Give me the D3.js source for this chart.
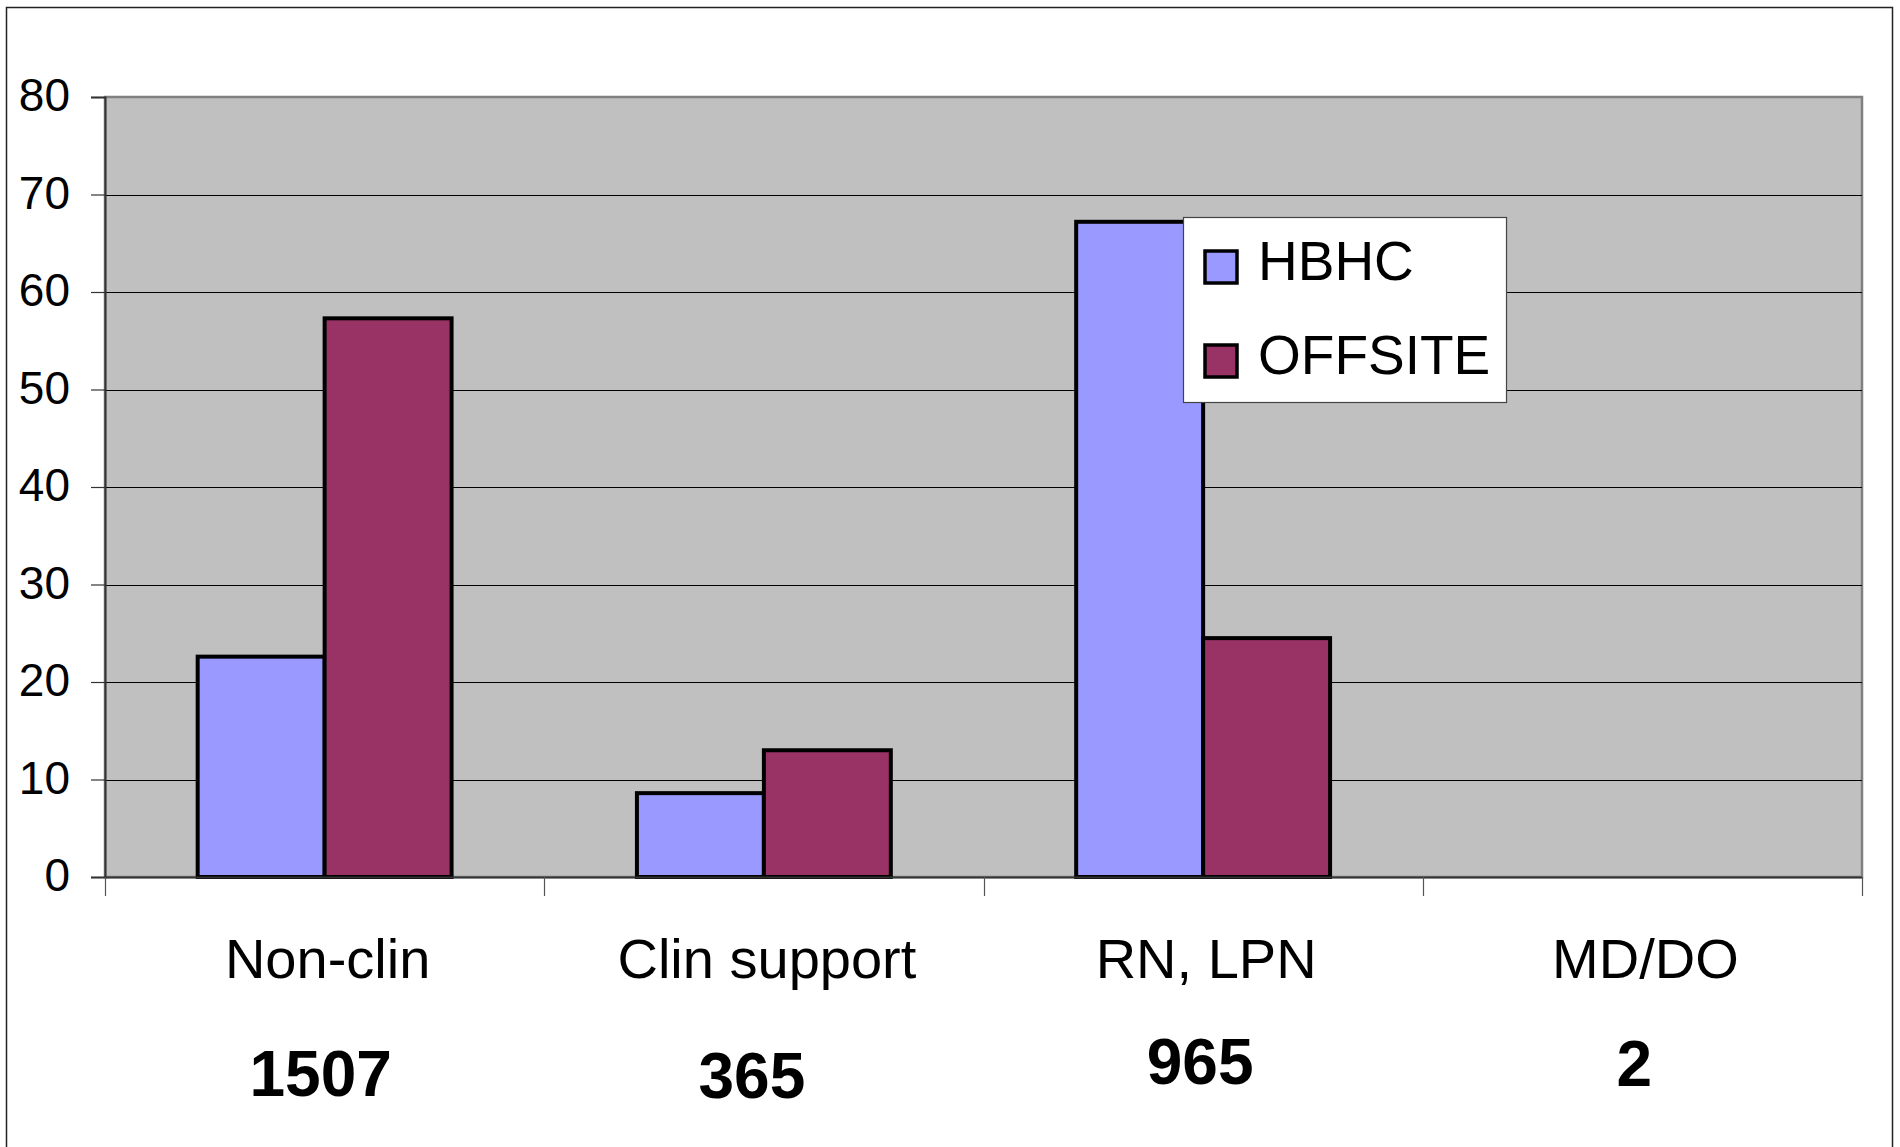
<!DOCTYPE html>
<html>
  <head>
    <meta charset="utf-8">
    <title>HBHC vs OFFSITE</title>
    <style type="text/css">
     html, body {
       margin: 0;
       padding: 0;
       background: #fff;
     }
     svg {
       display: block;
       font-family: "Liberation Sans", Arial, sans-serif;
     }
     .grid line {
       stroke: #000;
       stroke-width: 1px;
     }
     .bars rect {
       stroke: #000;
       stroke-width: 4px;
     }
     .yaxis text {
       font-size: 46px;
       fill: #000;
     }
     .cat {
       font-size: 56px;
     }
     .count {
       font-size: 64px;
       font-weight: bold;
     }
     .legend text {
       font-size: 55px;
     }
    </style>
  </head>
  <body>
    <svg width="1900" height="1147"></svg>
    <script src="https://cdn.jsdelivr.net/npm/d3@7/dist/d3.min.js"></script>
    <script>
     // data
     var categories = ["Non-clin", "Clin support", "RN, LPN", "MD/DO"];
     var seriesNames = ["HBHC", "OFFSITE"];
     var hbhc = [22.6, 8.6, 67.2, 0];
     var offsite = [57.3, 13.0, 24.5, 0];
     var counts = ["1507", "365", "965", "2"];
     var yTicks = [0, 10, 20, 30, 40, 50, 60, 70, 80];

     // small nudges of the count labels, as in the picture
     var countShift = [[-4, 12], [-12, 14], [-3, 0], [-8, 2]];

     var colors = ["#9999FF", "#993366"];

     var svg = d3.select("svg");

     var plot = {left: 105, right: 1862, top: 97, bottom: 877};

     var x = d3.scaleBand()
               .domain(categories)
               .range([plot.left, plot.right])
               .paddingInner(0)
               .paddingOuter(0);

     var xs = d3.scaleBand()
                .domain(seriesNames)
                .range([0, x.bandwidth()])
                .paddingInner(0)
                .paddingOuter(0.73);

     var y = d3.scaleLinear()
               .domain([0, 80])
               .range([plot.bottom, plot.top]);

     // outer chart frame
     svg.append("rect")
        .attr("x", 6.5)
        .attr("y", 7.5)
        .attr("width", 1886)
        .attr("height", 1160)
        .attr("fill", "#fff")
        .attr("stroke", "#222")
        .attr("stroke-width", 1.5);

     // plot background
     svg.append("rect")
        .attr("x", plot.left)
        .attr("y", plot.top)
        .attr("width", plot.right - plot.left)
        .attr("height", plot.bottom - plot.top)
        .attr("fill", "#C0C0C0")
        .attr("stroke", "#808080")
        .attr("stroke-width", 2.5);

     // gridlines
     svg.append("g")
        .attr("class", "grid")
        .selectAll("line")
        .data(yTicks.filter(d => d > 0 && d < 80))
        .enter().append("line")
        .attr("x1", plot.left)
        .attr("x2", plot.right)
        .attr("y1", d => Math.round(y(d)) + 0.5)
        .attr("y2", d => Math.round(y(d)) + 0.5);

     var rows = categories.map((c, i) => ({cat: c, values: [hbhc[i], offsite[i]]}));

     var groups = svg.append("g")
                     .attr("class", "bars")
                     .selectAll("g")
                     .data(rows)
                     .enter().append("g")
                     .attr("transform", d => `translate(${x(d.cat)},0)`);

     groups.selectAll("rect")
           .data(d => d.values.map((v, j) => ({name: seriesNames[j], value: v, j: j})).filter(d => d.value > 0))
           .enter().append("rect")
           .attr("x", d => xs(d.name))
           .attr("y", d => y(d.value))
           .attr("width", xs.bandwidth())
           .attr("height", d => y(0) - y(d.value))
           .attr("fill", d => colors[d.j]);

     // y axis
     var yAxis = d3.axisLeft(y)
                   .tickValues(yTicks)
                   .tickSize(14)
                   .tickPadding(21)
                   .tickFormat(d3.format("d"));

     var ya = svg.append("g")
                 .attr("class", "yaxis")
                 .attr("transform", `translate(${plot.left},0)`)
                 .call(yAxis);
     ya.select(".domain").attr("stroke", "#333").attr("stroke-width", 2);
     ya.selectAll(".tick line").attr("stroke", "#333").attr("stroke-width", 1.2);
     ya.selectAll(".tick text")
       .attr("font-family", "'Liberation Sans', Arial, sans-serif")
       .attr("dy", "0.3em");

     // x axis line and ticks at category edges
     svg.append("line")
        .attr("x1", plot.left)
        .attr("x2", plot.right)
        .attr("y1", plot.bottom + 0.5)
        .attr("y2", plot.bottom + 0.5)
        .attr("stroke", "#333")
        .attr("stroke-width", 2);

     var edges = categories.map(c => x(c)).concat([x.range()[1]]);
     svg.append("g")
        .selectAll("line")
        .data(edges)
        .enter().append("line")
        .attr("x1", d => Math.round(d) + 0.5)
        .attr("x2", d => Math.round(d) + 0.5)
        .attr("y1", plot.bottom)
        .attr("y2", plot.bottom + 19)
        .attr("stroke", "#555")
        .attr("stroke-width", 1.2);

     // category labels
     svg.append("g")
        .selectAll("text")
        .data(categories)
        .enter().append("text")
        .attr("class", "cat")
        .attr("x", d => x(d) + x.bandwidth() / 2 + 3)
        .attr("y", 978)
        .attr("text-anchor", "middle")
        .text(d => d);

     // count labels
     svg.append("g")
        .selectAll("text")
        .data(counts)
        .enter().append("text")
        .attr("class", "count")
        .attr("x", (d, i) => x(categories[i]) + x.bandwidth() / 2 + countShift[i][0])
        .attr("y", (d, i) => 1084 + countShift[i][1])
        .attr("text-anchor", "middle")
        .text(d => d);

     // legend
     var legend = svg.append("g")
                     .attr("class", "legend")
                     .attr("transform", "translate(1183,217)");

     legend.append("rect")
           .attr("x", 0.5)
           .attr("y", 0.5)
           .attr("width", 323)
           .attr("height", 185)
           .attr("fill", "#fff")
           .attr("stroke", "#444")
           .attr("stroke-width", 1.2);

     var items = legend.selectAll("g.item")
                       .data(seriesNames)
                       .enter().append("g")
                       .attr("class", "item")
                       .attr("transform", (d, i) => `translate(0,${i * 94})`);

     items.append("rect")
          .attr("x", 22)
          .attr("y", 34)
          .attr("width", 32)
          .attr("height", 32)
          .attr("fill", (d, i) => colors[i])
          .attr("stroke", "#000")
          .attr("stroke-width", 3.5);

     items.append("text")
          .attr("x", 75)
          .attr("y", 63)
          .text(d => d);
    </script>
  </body>
</html>
